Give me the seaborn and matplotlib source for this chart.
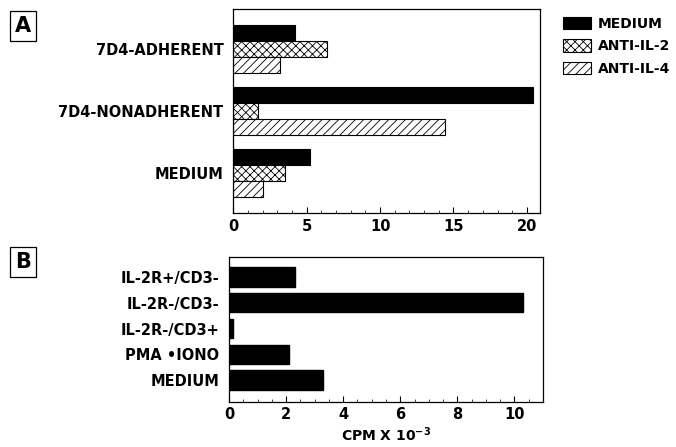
import numpy as np
import pandas as pd
import seaborn as sns
import matplotlib.pyplot as plt
from matplotlib.patches import Patch
from matplotlib.ticker import MultipleLocator

# Panel A data
cells_a = ['7D4-ADHERENT', '7D4-NONADHERENT', 'MEDIUM']
treatments = ['MEDIUM', 'ANTI-IL-2', 'ANTI-IL-4']
medium_vals = [4.2, 20.4, 5.2]
anti_il2_vals = [6.4, 1.7, 3.5]
anti_il4_vals = [3.2, 14.4, 2.0]

# Panel B data
cells_b = ['IL-2R+/CD3-', 'IL-2R-/CD3-', 'IL-2R-/CD3+', 'PMA \u2022IONO', 'MEDIUM']
cpm_b = [2.3, 10.3, 0.15, 2.1, 3.3]

sns.set_theme(style='white')
plt.rcParams['font.family'] = ['DejaVu Sans']
plt.rcParams['font.weight'] = 'bold'
plt.rcParams['text.color'] = 'black'
plt.rcParams['hatch.linewidth'] = 0.6

df_a = pd.DataFrame({
    'cells': np.repeat(cells_a, 3),
    'treatment': treatments * 3,
    'cpm': [v for trio in zip(medium_vals, anti_il2_vals, anti_il4_vals) for v in trio],
})
df_b = pd.DataFrame({'cells': cells_b, 'cpm': cpm_b})

fig = plt.figure(figsize=(6.76, 4.47), dpi=100)
ax_a = fig.add_axes([0.345, 0.523, 0.454, 0.457])
ax_b = fig.add_axes([0.339, 0.101, 0.464, 0.324])

fills = ['black', 'white', 'white']
hatches = ['', 'xxxx', '////']

sns.barplot(data=df_a, x='cpm', y='cells', hue='treatment', hue_order=treatments,
            order=cells_a, orient='h', width=0.78, palette=fills,
            edgecolor='black', linewidth=0.8, legend=False, ax=ax_a)
for container, h in zip(ax_a.containers, hatches):
    for bar in container:
        bar.set_hatch(h)

sns.barplot(data=df_b, x='cpm', y='cells', order=cells_b, orient='h', width=0.75,
            color='black', edgecolor='black', ax=ax_b)

ax_a.set_xlim(0, 20.9)
ax_a.set_ylim(2.65, -0.65)
ax_a.xaxis.set_major_locator(MultipleLocator(5))
ax_a.xaxis.set_minor_locator(MultipleLocator(1))

ax_b.set_xlim(0, 11.0)
ax_b.set_ylim(4.85, -0.78)
ax_b.xaxis.set_major_locator(MultipleLocator(2))
ax_b.xaxis.set_minor_locator(MultipleLocator(0.5))

for ax in (ax_a, ax_b):
    ax.set_xlabel('')
    ax.set_ylabel('')
    for s in ax.spines.values():
        s.set_color('black')
        s.set_linewidth(0.9)
    ax.tick_params(axis='x', which='major', direction='in', length=4, width=0.8,
                   labelsize=10.5, pad=4, bottom=True, colors='black')
    ax.tick_params(axis='x', which='minor', direction='in', length=2, width=0.6,
                   bottom=True)
    ax.tick_params(axis='y', length=0, labelsize=10.5, pad=7, colors='black')
    for lab in ax.get_xticklabels() + ax.get_yticklabels():
        lab.set_fontweight('bold')

ax_b.set_xlabel('CPM X 10$^{\\mathbf{-3}}$', fontsize=10, fontweight='bold',
                labelpad=2, color='black')

handles = [Patch(facecolor=f, edgecolor='black', hatch=h, linewidth=0.8)
           for f, h in zip(fills, hatches)]
fig.legend(handles, treatments, loc='upper left', bbox_to_anchor=(0.815, 0.99),
           frameon=False, handlelength=2.0, handleheight=1.0,
           labelspacing=0.6, handletextpad=0.5, labelcolor='black',
           prop={'weight': 'bold', 'size': 10})

for label, y in (('A', 0.942), ('B', 0.414)):
    fig.text(0.034, y, label, fontsize=15, fontweight='bold', ha='center', va='center',
             bbox=dict(boxstyle='square,pad=0.25', facecolor='white', edgecolor='black',
                       linewidth=0.9))

fig.savefig('out.png', dpi=100)
